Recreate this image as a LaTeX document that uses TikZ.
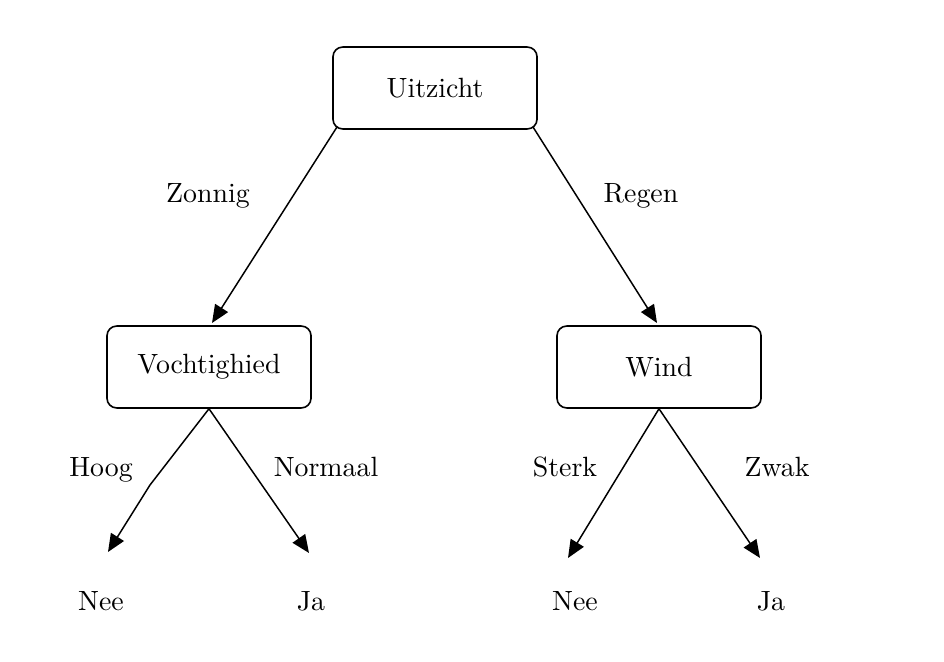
\documentclass[tikz,border=0pt]{standalone}
\usetikzlibrary{arrows.meta}
\begin{document}
\begin{tikzpicture}[x=0.37pt,y=-0.37pt,
  every node/.style={font=\fontsize{10.3}{12}\selectfont},
  box/.style={draw,line width=0.6pt,rounded corners=3.6pt,minimum width=75.5pt,minimum height=30.3pt,inner sep=0pt},
  lbl/.style={inner sep=0pt,text height=7pt,text depth=2pt},
  conn/.style={line width=0.55pt,-{Triangle[length=6.6pt,width=5.6pt]}}]
\useasboundingbox (0,0) rectangle (944,662);
\node[box] (u) at (435,88) {Uitzicht};
\node[box] (v) at (209,367) {Vochtighied};
\node[box] (w) at (659,367) {Wind};
\node[lbl] (l1) at (101,604) {Nee};
\node[lbl] (l2) at (311,604) {Ja};
\node[lbl] (l3) at (575,604) {Nee};
\node[lbl] (l4) at (771,604) {Ja};
\coordinate (s1) at (337,127);
\coordinate (s2) at (533,127);
\coordinate (e1) at (212,323);
\coordinate (e2) at (657,323);
\coordinate (b1) at (150,485);
\coordinate (e3) at (108,552);
\coordinate (e4) at (309,553);
\coordinate (e5) at (568,558);
\coordinate (e6) at (760,558);
\draw[conn] (s1) -- (e1);
\draw[conn] (s2) -- (e2);
\draw[conn] (v.south) -- (b1) -- (e3);
\draw[conn] (v.south) -- (e4);
\draw[conn] (w.south) -- (e5);
\draw[conn] (w.south) -- (e6);
\node[lbl] (t1) at (208,196) {Zonnig};
\node[lbl] (t2) at (641,196) {Regen};
\node[lbl] (t3) at (101,470) {Hoog};
\node[lbl] (t4) at (326,470) {Normaal};
\node[lbl] (t5) at (565,470) {Sterk};
\node[lbl] (t6) at (777,470) {Zwak};
\end{tikzpicture}
\end{document}
